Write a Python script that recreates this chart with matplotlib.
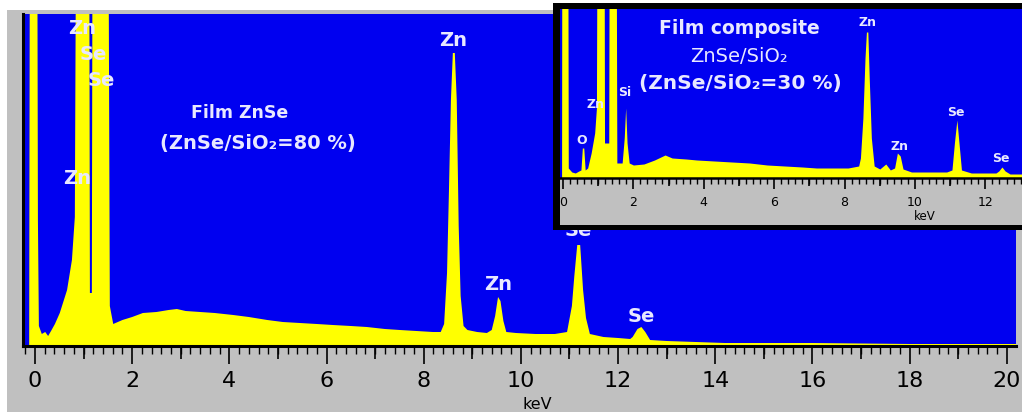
import matplotlib
matplotlib.use("Agg")
import matplotlib.pyplot as plt
from matplotlib.patches import Rectangle
from matplotlib.ticker import MultipleLocator
import matplotlib.transforms as mtransforms

# spectrum of the ZnSe film (energy in keV, counts in arbitrary units)
main_energy = [-0.25, -0.12, -0.10, 0.04, 0.06, 0.08, 0.14, 0.21, 0.27, 0.33,
               0.41, 0.51, 0.66, 0.76, 0.82, 0.86, 1.11, 1.13, 1.17, 1.19,
               1.50, 1.54, 1.61, 1.80, 2.00, 2.22, 2.50, 2.75, 2.92, 3.10,
               3.40, 3.70, 4.08, 4.40, 4.78, 5.10, 5.45, 5.80, 6.13, 6.50,
               6.83, 7.20, 7.51, 7.85, 8.19, 8.35, 8.42, 8.48, 8.52, 8.56,
               8.60, 8.64, 8.68, 8.72, 8.76, 8.82, 8.90, 9.10, 9.30, 9.40,
               9.47, 9.53, 9.58, 9.64, 9.70, 9.90, 10.30, 10.70, 10.95, 11.05,
               11.10, 11.16, 11.22, 11.28, 11.34, 11.42, 11.70, 12.00, 12.25, 12.30,
               12.40, 12.48, 12.56, 12.66, 13.00, 14.20, 16.00, 18.00, 20.20]
main_counts = [0, 0, 600, 600, 126, 20, 12, 14, 10, 15,
               22, 33, 56, 86, 129, 600, 600, 53, 53, 600,
               600, 40, 22, 26, 29, 33, 34, 36, 37, 35,
               34, 33, 31, 29, 26, 24, 23, 22, 21, 20,
               19, 17, 16, 15, 14, 14, 22, 73, 156, 246,
               293, 293, 246, 120, 50, 20, 16, 14, 13, 16,
               30, 49, 45, 25, 14, 13, 12, 12, 14, 40,
               70, 101, 101, 56, 28, 12, 9, 8, 7, 9,
               17, 19, 14, 6, 5, 3, 3, 2, 2]

# spectrum of the ZnSe/SiO2 composite film (inset)
inset_energy = [-0.09, -0.04, -0.03, 0.13, 0.15, 0.25, 0.35, 0.45, 0.51, 0.55,
                0.59, 0.63, 0.70, 0.80, 0.90, 0.95, 0.98, 1.16, 1.18, 1.30,
                1.32, 1.50, 1.53, 1.68, 1.74, 1.78, 1.82, 1.88, 2.00, 2.30,
                2.60, 2.90, 3.10, 3.50, 3.80, 4.30, 4.80, 5.30, 5.80, 6.30,
                6.80, 7.20, 7.70, 8.10, 8.40, 8.45, 8.52, 8.58, 8.62, 8.66,
                8.70, 8.76, 8.84, 9.00, 9.17, 9.30, 9.42, 9.50, 9.58, 9.66,
                9.90, 10.50, 10.90, 11.05, 11.12, 11.19, 11.25, 11.32, 11.60, 12.00,
                12.30, 12.38, 12.47, 12.56, 12.70, 13.10]
inset_counts = [0, 0, 400, 400, 10, 6, 5, 7, 8, 30,
                30, 8, 10, 25, 45, 70, 400, 400, 35, 35,
                400, 400, 15, 15, 40, 70, 35, 15, 13, 14,
                18, 23, 20, 19, 18, 17, 16, 15, 13, 12,
                11, 10, 10, 10, 12, 20, 60, 120, 146, 146,
                100, 40, 12, 9, 14, 8, 10, 25, 22, 9,
                6, 6, 6, 8, 35, 58, 35, 8, 5, 5,
                5, 7, 11, 7, 4, 4]

main_ticks = list(range(0, 21, 2))
inset_ticks = list(range(0, 13, 2))

main_peaks = [("Zn", 8.60, 305), ("Zn", 9.53, 61), ("Se", 11.18, 116),
              ("Se", 12.47, 30), ("Zn", 0.97, 317), ("Se", 1.19, 291),
              ("Se", 1.36, 266), ("Zn", 0.86, 167)]
inset_peaks = [("Zn", 8.64, 156), ("Zn", 9.55, 32), ("Se", 11.16, 66),
               ("Se", 12.44, 19), ("O", 0.54, 37), ("Zn", 0.91, 73),
               ("Si", 1.76, 86)]

BLUE = "#0000f0"
YELLOW = "#ffff00"
GRAY = "#c0c0c0"
TXT = "#e8e8ff"

W, H = 1022, 415
fig = plt.figure(figsize=(W / 100, H / 100), dpi=100, facecolor="white")


def box(x0, y0, x1, y1):
    # pixel box (top-left origin) -> figure fraction
    return [x0 / W, 1 - y1 / H, (x1 - x0) / W, (y1 - y0) / H]


def rect(x0, y0, x1, y1, color, z):
    b = box(x0, y0, x1, y1)
    fig.patches.append(Rectangle((b[0], b[1]), b[2], b[3], transform=fig.transFigure,
                                 facecolor=color, edgecolor="none", zorder=z))


rect(7, 10, W, 412, GRAY, -10)


def style_axis(ax, ticks, major_len, mid_len, minor_len, lw, fs, pad):
    ax.set_facecolor(BLUE)
    for s in ("top", "right"):
        ax.spines[s].set_visible(False)
    ax.spines["bottom"].set_linewidth(lw)
    ax.spines["left"].set_linewidth(lw)
    ax.set_yticks([])
    ax.set_xticks(ticks)
    ax.xaxis.set_minor_locator(MultipleLocator(0.2))
    ax.tick_params(axis="x", which="major", length=major_len, width=1.2,
                   labelsize=fs, pad=pad, direction="out")
    ax.tick_params(axis="x", which="minor", length=minor_len, width=1.0, direction="out")
    sec = ax.secondary_xaxis("bottom")
    sec.set_xticks([t + 1 for t in ticks[:-1]])
    sec.tick_params(length=mid_len, width=1.2, labelbottom=False)
    sec.spines["bottom"].set_visible(False)


# main spectrum
ax = fig.add_axes(box(23, 14, 1016, 346))
ax.fill_between(main_energy, main_counts, color=YELLOW, lw=0)
ax.set_xlim(-0.247, 20.19)
ax.set_ylim(0, 332)
style_axis(ax, main_ticks, 13, 9, 6, 2.2, 16, 5)
for lab, e, c in main_peaks:
    ax.text(e, c, lab, color=TXT, fontsize=14, fontweight="bold", ha="center", va="center")
ax.text(4.22, 233, "Film ZnSe", color=TXT, fontsize=12.5, fontweight="bold", ha="center", va="center")
ax.text(4.59, 203, "(ZnSe/SiO₂=80 %)", color=TXT, fontsize=14, fontweight="bold",
        ha="center", va="center")
tr = mtransforms.blended_transform_factory(ax.transData, ax.transAxes)
ax.text(10.33, -0.175, "keV", transform=tr, fontsize=11.5, ha="center", va="center")

# inset frame
rect(553, 3, W, 230, "black", 2)
rect(560, 9, W, 225, GRAY, 2.5)

axi = fig.add_axes(box(560, 9, W, 178))
axi.set_zorder(3)
axi.fill_between(inset_energy, inset_counts, color=YELLOW, lw=0)
axi.set_xlim(-0.085, 13.04)
axi.set_ylim(0, 169)
style_axis(axi, inset_ticks, 8, 6, 4, 1.8, 9, 5)
axi.spines["left"].set_visible(False)
for lab, e, c in inset_peaks:
    axi.text(e, c, lab, color=TXT, fontsize=9, fontweight="bold", ha="center", va="center")
axi.text(5.0, 149, "Film composite", color=TXT, fontsize=13.5, fontweight="bold",
         ha="center", va="center")
axi.text(5.0, 121, "ZnSe/SiO₂", color=TXT, fontsize=14, ha="center", va="center")
axi.text(5.03, 95, "(ZnSe/SiO₂=30 %)", color=TXT, fontsize=14.5, fontweight="bold",
         ha="center", va="center")
tri = mtransforms.blended_transform_factory(axi.transData, axi.transAxes)
axi.text(10.28, -0.23, "keV", transform=tri, fontsize=8.5, ha="center", va="center")

fig.savefig("out.png", dpi=100, facecolor="white")
